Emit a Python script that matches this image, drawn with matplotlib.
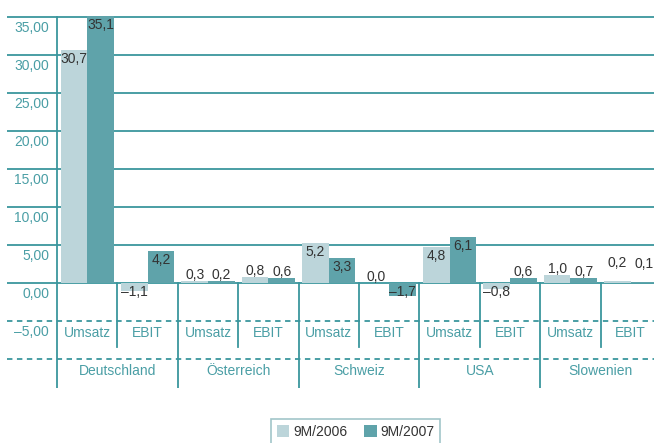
import matplotlib
matplotlib.use("Agg")
import matplotlib.pyplot as plt
from matplotlib.patches import Patch

plt.rcParams['font.family'] = ['Liberation Sans', 'DejaVu Sans']

countries = ["Deutschland", "Österreich", "Schweiz", "USA", "Slowenien"]
measures = ["Umsatz", "EBIT"]
series = ["9M/2006", "9M/2007"]
values_2006 = [30.7, -1.1, 0.3, 0.8, 5.2, 0.0, 4.8, -0.8, 1.0, 0.2]
values_2007 = [35.1, 4.2, 0.2, 0.6, 3.3, -1.7, 6.1, 0.6, 0.7, 0.1]
yticks = [-5, 0, 5, 10, 15, 20, 25, 30, 35]

light = "#bcd5da"
dark = "#5fa3aa"
teal = "#3a969d"
label_teal = "#4a9ea5"
text_dark = "#333333"

W, H = 654, 443
fig = plt.figure(figsize=(W / 100, H / 100), dpi=100)
# geometry in pixels of the reference
x0_px, unit_px = 57, 60.4
y0_px, yunit_px = 283, 7.6
bottom_px = 388
ax = fig.add_axes([7 / W, 1 - bottom_px / H, 1 - 7 / W, bottom_px / H])
ax.set_xlim((7 - x0_px) / unit_px, (W - x0_px) / unit_px)
ax.set_ylim(-(bottom_px - y0_px) / yunit_px, y0_px / yunit_px)
ax.axis("off")

# grid
for t in yticks:
    if t < 0:
        ax.axhline(t, color=teal, lw=1.3, ls=(0, (3, 2.5)), zorder=1)
    else:
        ax.axhline(t, color=teal, lw=1.3, zorder=1)
ax.axhline(-10, color=teal, lw=1.3, ls=(0, (3, 2.5)), zorder=1)
ybot = ax.get_ylim()[0]
for t in yticks:
    lab = f"{abs(t):.2f}".replace(".", ",")
    if t < 0:
        lab = "–" + lab
    ax.annotate(lab, (-8 / unit_px, t), xytext=(0, -11 * 0.72), textcoords="offset points",
                ha="right", va="center", fontsize=10, color=label_teal)

# axis and separators
ax.plot([0, 0], [35, ybot], color=teal, lw=1.3, zorder=1)
n = len(values_2006)
for i in range(1, n):
    if i % 2 == 0:
        ax.plot([i, i], [0, ybot], color=teal, lw=1.3, zorder=1)
    else:
        ax.plot([i, i], [0, -8.4], color=teal, lw=1.3, zorder=1)

# bars
w = 0.44
xs = [i + 0.5 for i in range(n)]
ax.bar([x - w / 2 for x in xs], values_2006, w, color=light, zorder=2)
ax.bar([x + w / 2 for x in xs], values_2007, w, color=dark, zorder=2)

def fmt(v):
    s = f"{abs(v):.1f}".replace(".", ",")
    return ("–" + s) if v < 0 else s

for i, (a, b) in enumerate(zip(values_2006, values_2007)):
    for x, v in ((xs[i] - w / 2, a), (xs[i] + w / 2, b)):
        if v < 0 or v >= 2:
            anchor, off = max(v, 0), -9
        else:
            anchor, off = v, 6 if i < n - 1 else 18
        ax.annotate(fmt(v), (x, anchor), xytext=(0, off * 0.72), textcoords="offset points",
                    ha="center", va="center", fontsize=10, color=text_dark, zorder=3)

# category labels
for i in range(n):
    ax.text(xs[i], -6.6, measures[i % 2], ha="center", va="center", fontsize=10, color=label_teal)
for j, c in enumerate(countries):
    ax.text(2 * j + 1, -11.6, c, ha="center", va="center", fontsize=10, color=label_teal)

handles = [Patch(facecolor=light, edgecolor="none"), Patch(facecolor=dark, edgecolor="none")]
leg = fig.legend(handles, series, loc="upper left", bbox_to_anchor=(271 / W, 1 - 419 / H),
                 ncol=2, fontsize=10, frameon=True, fancybox=False, handlelength=0.9,
                 handleheight=0.9, handletextpad=0.3, columnspacing=1.2, borderpad=0.4,
                 borderaxespad=0)
leg.get_frame().set_edgecolor("#8ab7bc")
leg.get_frame().set_linewidth(1.2)
for t in leg.get_texts():
    t.set_color(text_dark)

fig.savefig("out.png", dpi=100)
